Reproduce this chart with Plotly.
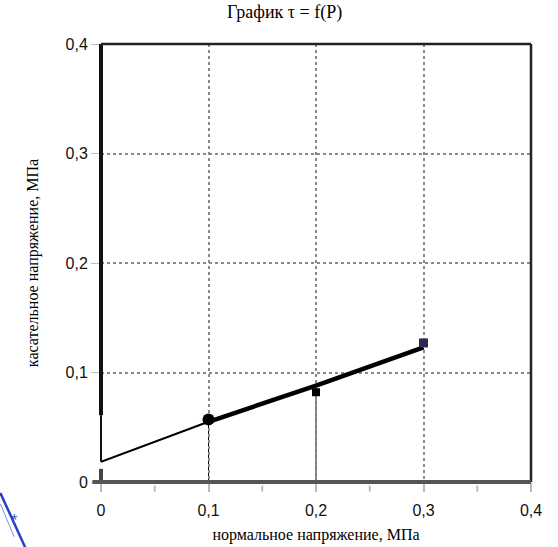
import plotly.graph_objects as go

# Normal stress P (MPa) and measured shear stress tau (MPa)
p_vals = [0.1, 0.2, 0.3]
tau_vals = [0.057, 0.082, 0.127]

# Linear trend tau = c + tan(phi) * P
trend_p = [0.0, 0.1, 0.2, 0.3]
trend_tau = [0.0185, 0.055, 0.088, 0.123]

tick_vals = [0, 0.1, 0.2, 0.3, 0.4]
tick_text = ["0", "0,1", "0,2", "0,3", "0,4"]
minor_vals = [0.05, 0.15, 0.25, 0.35]

title_text = "График τ = f(P)"
x_title = "нормальное напряжение, МПа"
y_title = "касательное напряжение, МПа"

serif = "Liberation Serif, Times New Roman, serif"
sans = "Liberation Sans, Arial, sans-serif"

AX_MAX = tick_vals[-1]


def py(v):
    """Value on the tau axis -> paper fraction (axis starts at 0)."""
    return v / AX_MAX


fig = go.Figure()

# thin part of the trend line from the intercept to the first test
fig.add_trace(go.Scatter(x=trend_p[:2], y=trend_tau[:2], mode="lines",
                         line=dict(color="black", width=2), showlegend=False,
                         hoverinfo="skip"))
# heavier part through the test points
fig.add_trace(go.Scatter(x=trend_p[1:], y=trend_tau[1:], mode="lines",
                         line=dict(color="black", width=4.5), showlegend=False,
                         hoverinfo="skip"))
# measured points
fig.add_trace(go.Scatter(x=p_vals[:1], y=tau_vals[:1], mode="markers",
                         marker=dict(symbol="circle", size=12, color="black"),
                         showlegend=False))
fig.add_trace(go.Scatter(x=p_vals[1:2], y=tau_vals[1:2], mode="markers",
                         marker=dict(symbol="square", size=8, color="black"),
                         showlegend=False))
fig.add_trace(go.Scatter(x=p_vals[2:], y=tau_vals[2:], mode="markers",
                         marker=dict(symbol="square", size=9, color="#2a2a50"),
                         showlegend=False))

shapes = []
# dotted drop lines from the first two points to the P axis
for px, ty in zip(p_vals[:2], tau_vals[:2]):
    shapes.append(dict(type="line", xref="x", yref="y", x0=px, x1=px, y0=0, y1=ty,
                       line=dict(color="black", width=1, dash="dot"), layer="above"))

# frame: heavy left axis, top and right border, heavy bottom axis
shapes += [
    dict(type="line", xref="paper", yref="paper", x0=0, x1=0, y0=py(0.061), y1=1,
         line=dict(color="#111", width=4)),
    dict(type="line", xref="paper", yref="paper", x0=0, x1=0,
         y0=py(trend_tau[0]), y1=py(0.061), line=dict(color="#111", width=2)),
    dict(type="line", xref="paper", yref="paper", x0=0, x1=0, y0=0, y1=py(0.012),
         line=dict(color="#444", width=4)),
    dict(type="line", xref="paper", yref="paper", x0=0, x1=1, y0=1, y1=1,
         line=dict(color="#222", width=2.5)),
    dict(type="line", xref="paper", yref="paper", x0=1, x1=1, y0=0, y1=1,
         line=dict(color="#222", width=2.5)),
    dict(type="line", xref="paper", yref="paper", x0=-0.02, x1=1, y0=0, y1=0,
         line=dict(color="#555", width=4)),
]
# minor ticks under the P axis
for mv in minor_vals:
    shapes.append(dict(type="line", xref="x", yref="paper", x0=mv, x1=mv,
                       y0=-0.008, y1=-0.022, line=dict(color="#bbb", width=2)))

# blue stamp fragment in the corner
shapes += [
    dict(type="line", xref="paper", yref="paper", x0=-0.234, x1=-0.176,
         y0=-0.025, y1=-0.15, line=dict(color="#2b3fc4", width=2.5)),
    dict(type="line", xref="paper", yref="paper", x0=-0.234, x1=-0.202,
         y0=-0.05, y1=-0.125, line=dict(color="#7a8fe8", width=1)),
]

fig.update_layout(
    width=558, height=547,
    margin=dict(l=101, r=27, t=44, b=65, autoexpand=False),
    paper_bgcolor="white", plot_bgcolor="white",
    title=dict(text=title_text, x=0.51, xanchor="center", y=0.99, yanchor="top",
               font=dict(family=serif, size=18, color="black")),
    shapes=shapes,
    xaxis=dict(range=[0, AX_MAX], tickvals=tick_vals, ticktext=tick_text,
               showgrid=True, gridcolor="#8a8a8a", griddash="dot", gridwidth=1.5,
               zeroline=False, showline=False, automargin=False,
               ticks="outside", ticklen=9, tickcolor="#bbb", tickwidth=2,
               ticklabelstandoff=5,
               tickfont=dict(family=sans, size=16, color="#111"),
               title=dict(text=x_title, standoff=10,
                          font=dict(family=serif, size=16, color="black"))),
    yaxis=dict(range=[0, AX_MAX], tickvals=tick_vals, ticktext=tick_text,
               showgrid=True, gridcolor="#8a8a8a", griddash="dot", gridwidth=1.5,
               zeroline=False, showline=False, automargin=False,
               ticks="outside", ticklen=9, tickcolor="#bbb", tickwidth=1,
               tickfont=dict(family=sans, size=16, color="#111"),
               title=dict(text=y_title, standoff=22,
                          font=dict(family=serif, size=16, color="black"))),
)

fig.add_annotation(xref="paper", yref="paper", x=-0.215, y=-0.11, text="*",
                   showarrow=False, font=dict(color="#2b3fc4", size=12))

fig.write_html("out.html")
